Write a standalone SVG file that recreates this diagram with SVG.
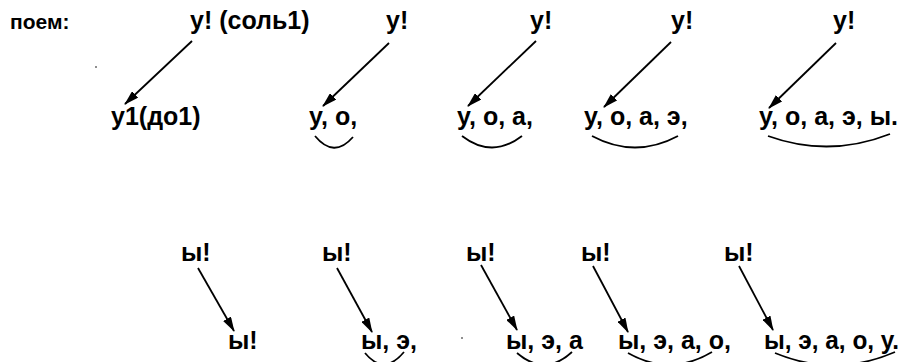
<svg xmlns="http://www.w3.org/2000/svg" width="903" height="362" viewBox="0 0 903 362">
<style>
.t{font-family:"Liberation Sans",Arial,sans-serif;font-weight:bold;font-size:25px;fill:#000}
.s{font-size:21px}
.c line{stroke:#000;stroke-width:1.8}
.a{fill:none;stroke:#000;stroke-width:1.8}
</style>
<defs>
<marker id="ah" viewBox="0 0 15 9" refX="14" refY="4.5" markerWidth="15" markerHeight="9" markerUnits="userSpaceOnUse" orient="auto">
<path d="M0,0 L15,4.5 L0,9 z" fill="#000"/>
</marker>
</defs>
<rect width="903" height="362" fill="#fff"/>
<g id="label-poem"><text class="t s" x="10" y="29">поем:</text></g>
<g id="n-top1"><text class="t" x="190" y="29">у! (соль1)</text></g>
<g id="n-top2"><text class="t" x="386" y="29">у!</text></g>
<g id="n-top3"><text class="t" x="530" y="29">у!</text></g>
<g id="n-top4"><text class="t" x="671" y="29">у!</text></g>
<g id="n-top5"><text class="t" x="833" y="29">у!</text></g>
<g id="n-mid1"><text class="t" x="111" y="125">у1(до1)</text></g>
<g id="n-mid2"><text class="t" x="309" y="125">у, о,</text></g>
<g id="n-mid3"><text class="t" x="457" y="125">у, о, а,</text></g>
<g id="n-mid4"><text class="t" x="584" y="125">у, о, а, э,</text></g>
<g id="n-mid5"><text class="t" x="759" y="125" textLength="139" lengthAdjust="spacingAndGlyphs">у, о, а, э, ы.</text></g>
<g id="n-low1"><text class="t" x="181" y="261">ы!</text></g>
<g id="n-low2"><text class="t" x="322" y="261">ы!</text></g>
<g id="n-low3"><text class="t" x="466" y="261">ы!</text></g>
<g id="n-low4"><text class="t" x="581" y="261">ы!</text></g>
<g id="n-low5"><text class="t" x="724" y="261">ы!</text></g>
<g id="n-bot1"><text class="t" x="228" y="349">ы!</text></g>
<g id="n-bot2"><text class="t" x="361" y="349">ы, э,</text></g>
<g id="n-bot3"><text class="t" x="506" y="349">ы, э, а</text></g>
<g id="n-bot4"><text class="t" x="618" y="349">ы, э, а, о,</text></g>
<g id="n-bot5"><text class="t" x="764" y="349" textLength="135" lengthAdjust="spacingAndGlyphs">ы, э, а, о, у.</text></g>
<g id="connectors" class="c">
<line x1="192" y1="41" x2="125" y2="104" marker-end="url(#ah)"/>
<line x1="389" y1="43" x2="323" y2="106" marker-end="url(#ah)"/>
<line x1="536" y1="41" x2="468" y2="106" marker-end="url(#ah)"/>
<line x1="671" y1="42" x2="604" y2="107" marker-end="url(#ah)"/>
<line x1="836" y1="43" x2="769" y2="108" marker-end="url(#ah)"/>
<line x1="198" y1="268" x2="234" y2="331" marker-end="url(#ah)"/>
<line x1="337" y1="268" x2="372" y2="332" marker-end="url(#ah)"/>
<line x1="481" y1="265" x2="517" y2="330" marker-end="url(#ah)"/>
<line x1="593" y1="266" x2="628" y2="332" marker-end="url(#ah)"/>
<line x1="739" y1="266" x2="773" y2="330" marker-end="url(#ah)"/>
</g>
<g id="arcs">
<path class="a" d="M315,136 Q334,159 353,137"/>
<path class="a" d="M462,136 Q492,159 522,136"/>
<path class="a" d="M592,136 Q635,159 678,136"/>
<path class="a" d="M768,136 Q829,158 890,134"/>
<path class="a" d="M365,353 Q384,376 404,352"/>
<path class="a" d="M517,353 Q545,377 572,352"/>
<path class="a" d="M628,353 Q670,377 712,352"/>
<path class="a" d="M775,353 Q835,378 895,352"/>
</g>
<g id="specks" fill="#000">
<circle cx="96" cy="67" r="0.8"/>
<circle cx="462" cy="338" r="0.8"/>
</g>
</svg>
